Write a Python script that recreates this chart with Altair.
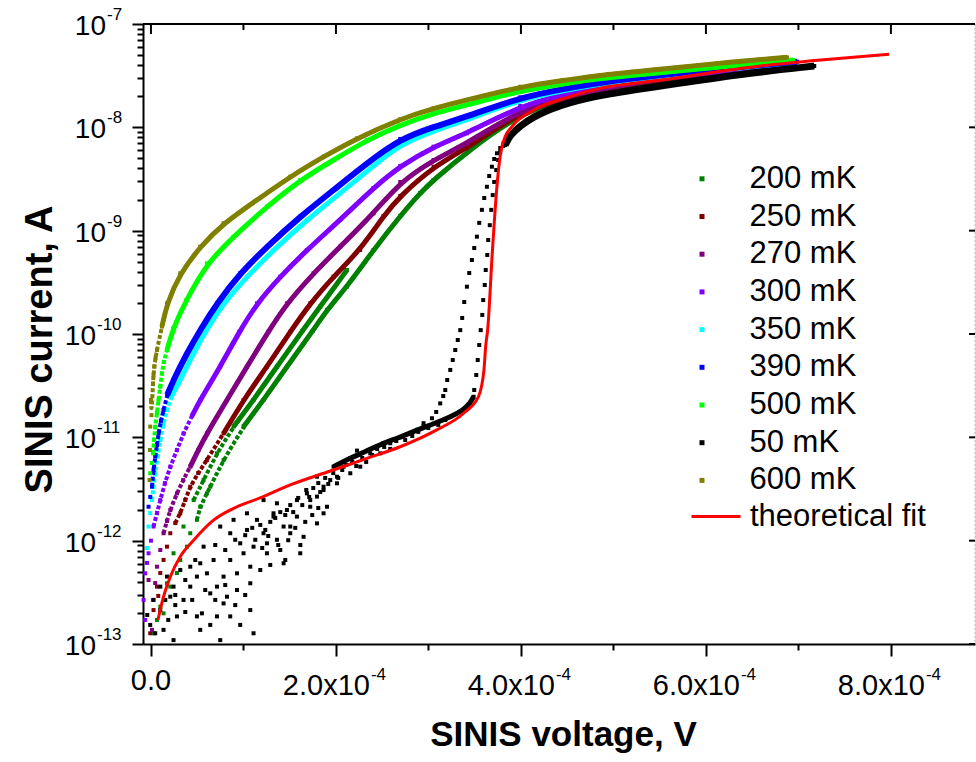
import altair as alt
import pandas as pd

FONT = "Liberation Sans"

series_names = ["200 mK", "250 mK", "270 mK", "300 mK", "350 mK", "390 mK", "500 mK", "50 mK", "600 mK"]
series_colors = ["#008000", "#800000", "#800080", "#8000FF", "#00FFFF", "#0000FF", "#00FF00", "#000000", "#808000"]
color_of = dict(zip(series_names, series_colors))
fit_name = "theoretical fit"
fit_color = "#FF0000"

# ---------------- data (V in volts, I in amperes) ----------------
V_200a = [2.8e-6, 6.5e-6, 1.36e-5, 2.09e-5, 2.81e-5, 3.17e-5, 3.89e-5, 4.25e-5, 4.97e-5, 5.33e-5,
          6.05e-5, 6.41e-5, 7.85e-5, 1.001e-4, 1.217e-4, 1.470e-4, 1.749e-4, 1.903e-4, 2.119e-4, 2.406e-4,
          2.695e-4, 2.911e-4, 3.055e-4, 3.416e-4, 3.992e-4, 4.497e-4, 4.857e-4, 5.506e-4, 6.263e-4, 6.922e-4]
I_200a = [1.27e-13, 1.71e-13, 1.98e-13, 3.59e-13, 4.86e-13, 6.51e-13, 8.75e-13, 1.18e-12, 1.59e-12, 2.13e-12,
          2.87e-12, 3.33e-12, 6.04e-12, 1.27e-11, 2.30e-11, 4.83e-11, 1.07e-10, 1.71e-10, 2.87e-10, 6.50e-10,
          1.39e-9, 2.32e-9, 3.09e-9, 5.78e-9, 1.37e-8, 1.91e-8, 2.26e-8, 2.87e-8, 3.43e-8, 3.92e-8]
V_200b = [1.01e-5, 1.73e-5, 2.44e-5, 3.52e-5, 4.61e-5, 5.69e-5, 7.14e-5, 8.93e-5, 1.109e-4, 1.362e-4,
          1.636e-4, 1.830e-4, 2.119e-4]
I_200b = [2.30e-13, 3.87e-13, 7.55e-13, 1.37e-12, 2.47e-12, 3.86e-12, 7.0e-12, 1.27e-11, 2.30e-11, 4.83e-11,
          1.07e-10, 1.84e-10, 4.16e-10]

V_250 = [-0.8e-6, 2.8e-6, 6.5e-6, 7.9e-6, 1.01e-5, 1.36e-5, 1.73e-5, 2.09e-5, 2.63e-5, 3.17e-5,
         3.71e-5, 4.25e-5, 5.11e-5, 6.05e-5, 7.85e-5, 1.001e-4, 1.254e-4, 1.506e-4, 1.722e-4, 1.974e-4,
         2.262e-4, 2.515e-4, 2.695e-4, 3.055e-4, 3.416e-4, 3.992e-4, 4.497e-4, 4.857e-4, 5.506e-4, 6.263e-4, 6.922e-4]
I_250 = [1.27e-13, 2.13e-13, 3.59e-13, 2.92e-13, 4.86e-13, 6.51e-13, 8.75e-13, 1.18e-12, 1.48e-12, 1.84e-12,
         2.47e-12, 3.33e-12, 4.51e-12, 6.04e-12, 1.09e-11, 2.30e-11, 4.83e-11, 1.05e-10, 1.98e-10, 3.59e-10,
         6.51e-10, 1.39e-9, 2.17e-9, 4.16e-9, 6.27e-9, 1.42e-8, 1.95e-8, 2.30e-8, 2.92e-8, 3.47e-8, 3.97e-8]

V_270 = [-2.6e-6, 1.1e-6, 2.8e-6, 4.6e-6, 6.5e-6, 1.01e-5, 1.36e-5, 1.73e-5, 2.09e-5, 2.81e-5,
         3.49e-5, 4.25e-5, 5.11e-5, 6.05e-5, 8.22e-5, 1.038e-4, 1.268e-4, 1.470e-4, 1.758e-4, 2.046e-4,
         2.406e-4, 2.695e-4, 3.055e-4, 3.416e-4, 3.992e-4, 4.497e-4, 4.857e-4, 5.506e-4, 6.263e-4, 6.933e-4]
I_270 = [4.16e-13, 1.37e-13, 2.67e-13, 3.89e-13, 5.60e-13, 8.12e-13, 1.18e-12, 1.55e-12, 1.98e-12, 2.87e-12,
         3.86e-12, 5.20e-12, 7.54e-12, 1.09e-11, 2.30e-11, 4.83e-11, 1.05e-10, 1.98e-10, 3.87e-10, 7.0e-10,
         1.47e-9, 2.96e-9, 4.83e-9, 7.0e-9, 1.47e-8, 2.01e-8, 2.33e-8, 2.98e-8, 3.51e-8, 4.01e-8]

V_300 = [-8.0e-6, -6.2e-6, -6.2e-6, -4.3e-6, -2.6e-6, 0.0, 2.8e-6, 6.5e-6, 1.01e-5, 1.51e-5,
         2.09e-5, 2.81e-5, 3.52e-5, 4.43e-5, 5.33e-5, 7.49e-5, 9.55e-5, 1.146e-4, 1.398e-4, 1.686e-4,
         2.046e-4, 2.406e-4, 2.695e-4, 3.055e-4, 3.416e-4, 3.992e-4, 4.497e-4, 4.857e-4, 5.506e-4, 6.263e-4, 6.944e-4]
I_300 = [2.67e-13, 4.83e-13, 1.71e-13, 6.09e-13, 7.55e-13, 1.0e-12, 1.37e-12, 1.85e-12, 2.47e-12, 3.61e-12,
         5.20e-12, 7.54e-12, 1.09e-11, 1.61e-11, 2.30e-11, 4.83e-11, 1.05e-10, 1.98e-10, 3.59e-10, 6.51e-10,
         1.27e-9, 2.59e-9, 4.23e-9, 6.50e-9, 8.76e-9, 1.61e-8, 2.13e-8, 2.47e-8, 3.05e-8, 3.59e-8, 4.10e-8]

V_350 = [-4.3e-6, -2.6e-6, -0.8e-6, 1.1e-6, 2.8e-6, 4.6e-6, 7.4e-6, 1.01e-5, 1.33e-5, 1.73e-5,
         2.19e-5, 2.98e-5, 4.61e-5, 6.09e-5, 7.85e-5, 1.038e-4, 1.325e-4, 1.686e-4, 2.046e-4, 2.406e-4,
         2.695e-4, 3.055e-4, 3.416e-4, 3.992e-4, 4.497e-4, 4.857e-4, 5.506e-4, 6.263e-4, 6.965e-4]
I_350 = [8.49e-13, 1.37e-12, 1.85e-12, 2.47e-12, 3.30e-12, 4.49e-12, 6.60e-12, 9.42e-12, 1.32e-11, 1.84e-11,
         2.46e-11, 3.33e-11, 6.51e-11, 1.14e-10, 1.98e-10, 3.59e-10, 6.51e-10, 1.27e-9, 2.30e-9, 4.23e-9,
         6.85e-9, 9.22e-9, 1.18e-8, 1.86e-8, 2.30e-8, 2.63e-8, 3.14e-8, 3.67e-8, 4.24e-8]

V_390 = [-2.6e-6, -0.8e-6, 1.1e-6, 2.8e-6, 4.6e-6, 6.5e-6, 8.2e-6, 1.08e-5, 1.36e-5, 1.76e-5,
         2.44e-5, 3.89e-5, 5.44e-5, 7.14e-5, 9.65e-5, 1.254e-4, 1.614e-4, 1.974e-4, 2.335e-4, 2.695e-4,
         3.055e-4, 3.416e-4, 3.992e-4, 4.497e-4, 4.857e-4, 5.506e-4, 6.263e-4, 6.987e-4]
I_390 = [2.13e-12, 2.65e-12, 3.33e-12, 4.83e-12, 6.50e-12, 8.43e-12, 1.09e-11, 1.44e-11, 1.84e-11, 2.57e-11,
         3.59e-11, 6.51e-11, 1.14e-10, 1.98e-10, 3.87e-10, 7.0e-10, 1.37e-9, 2.47e-9, 4.49e-9, 7.72e-9,
         1.01e-8, 1.27e-8, 1.95e-8, 2.39e-8, 2.70e-8, 3.21e-8, 3.75e-8, 4.32e-8]

V_500 = [-0.8e-6, 0.9e-6, 2.2e-6, 3.4e-6, 4.6e-6, 6.5e-6, 8.2e-6, 1.01e-5, 1.19e-5, 1.38e-5,
         1.73e-5, 2.41e-5, 3.82e-5, 6.05e-5, 8.93e-5, 1.254e-4, 1.614e-4, 1.974e-4, 2.335e-4, 2.695e-4,
         3.055e-4, 3.416e-4, 3.992e-4, 4.497e-4, 4.857e-4, 5.506e-4, 6.263e-4, 6.944e-4]
I_500 = [4.49e-12, 5.64e-12, 7.0e-12, 9.42e-12, 1.27e-11, 1.72e-11, 2.30e-11, 3.09e-11, 4.17e-11, 5.35e-11,
         7.0e-11, 1.14e-10, 2.13e-10, 4.83e-10, 8.74e-10, 1.71e-9, 3.09e-9, 4.83e-9, 7.54e-9, 1.05e-8,
         1.37e-8, 1.64e-8, 2.26e-8, 2.67e-8, 2.98e-8, 3.38e-8, 3.92e-8, 4.48e-8]

V_600 = [-1.5e-6, -1.1e-6, -0.8e-6, 0.0, 0.6e-6, 2.2e-6, 2.8e-6, 3.6e-6, 5.0e-6, 6.5e-6,
         1.19e-5, 1.73e-5, 3.17e-5, 5.33e-5, 7.85e-5, 1.146e-4, 1.506e-4, 1.866e-4, 2.227e-4, 2.695e-4,
         3.055e-4, 3.416e-4, 3.992e-4, 4.497e-4, 4.857e-4, 5.506e-4, 6.155e-4, 6.876e-4]
I_600 = [3.86e-12, 7.54e-12, 1.27e-11, 2.30e-11, 1.64e-11, 3.33e-11, 4.01e-11, 4.83e-11, 5.88e-11, 7.0e-11,
         1.18e-10, 1.98e-10, 3.87e-10, 7.0e-10, 1.18e-9, 1.98e-9, 3.33e-9, 5.20e-9, 7.83e-9, 1.20e-8,
         1.53e-8, 1.84e-8, 2.47e-8, 2.87e-8, 3.21e-8, 3.64e-8, 4.19e-8, 4.76e-8]

# 50 mK: noisy low-bias cloud, dense band, steep rise, hysteresis branch, upper branch
V_50_cloud = [-0.8e-6, 4.6e-6, 1.36e-5, 2.44e-5, 2.81e-5, 3.52e-5, 2.09e-5, 4.25e-5, 4.97e-5, 5.51e-5,
              6.41e-5, 7.14e-5, 7.85e-5, 8.57e-5, 1.074e-4, 1.109e-4, 4.97e-5, 6.05e-5, 6.77e-5, 5.33e-5,
              4.25e-5, 5.69e-5, 7.14e-5, 7.85e-5, 8.57e-5, 9.30e-5, 1.001e-4, 1.074e-4, 1.146e-4, 1.038e-4,
              8.57e-5, 9.65e-5, 1.109e-4, 1.217e-4, 1.254e-4, 1.362e-4, 1.325e-4, 1.434e-4, 1.506e-4, 1.578e-4,
              1.650e-4, 1.578e-4, 1.722e-4, 1.795e-4, 1.866e-4, 1.938e-4, 2.011e-4, 2.082e-4, 1.866e-4, 1.686e-4,
              3.17e-5, 1.73e-5, 1.01e-5, 2.44e-5, 8.22e-5, 6.41e-5, 9.30e-5, 1.074e-4, 1.182e-4, 1.254e-4,
              1.325e-4, 1.398e-4, 1.434e-4, 1.506e-4, 1.614e-4, 1.470e-4, 1.722e-4, 1.795e-4, 1.866e-4, 1.903e-4,
              2.011e-4, 2.155e-4, 2.263e-4, 2.371e-4, 2.479e-4, 2.587e-4, 2.695e-4, 2.803e-4, 2.947e-4, 2.227e-4,
              1.795e-4, 1.362e-4, 1.217e-4, 1.038e-4, 8.93e-5, 7.49e-5, -4.0e-6, 2.5e-6,
              1.182e-4, 1.236e-4, 1.290e-4, 1.344e-4, 1.398e-4, 1.452e-4, 1.506e-4, 1.538e-4, 1.592e-4, 1.636e-4,
              1.679e-4, 1.711e-4, 1.755e-4, 1.809e-4, 1.830e-4, 1.884e-4, 1.917e-4, 1.971e-4, 2.025e-4, 2.068e-4,
              2.111e-4, 2.176e-4, 2.219e-4, 2.284e-4, 2.327e-4, 2.392e-4, 2.446e-4, 2.522e-4, 2.587e-4, 2.652e-4,
              2.749e-4, 2.825e-4, 2.890e-4, 2.998e-4, 3.106e-4, 3.182e-4, 1.128e-4, 1.203e-4, 1.268e-4, 1.376e-4,
              1.484e-4, 1.560e-4, 1.668e-4, 1.744e-4, 1.809e-4, 1.615e-4, 1.452e-4, 1.290e-4, 1.01e-5, 1.87e-5,
              2.63e-5, 3.71e-5, 4.46e-5, 5.87e-5, 6.95e-5, 8.03e-5, 9.11e-5, 1.019e-4, 6.95e-5, 8.03e-5,
              9.11e-5, 1.019e-4, 1.095e-4, 4.79e-5, 3.71e-5, 2.63e-5, 1.55e-5, 5.33e-5, 7.49e-5, 9.65e-5]
I_50_cloud = [1.53e-13, 1.27e-13, 1.37e-13, 1.09e-13, 1.85e-13, 2.67e-13, 2.87e-13, 3.59e-13, 1.85e-13, 1.98e-13,
              1.53e-13, 1.85e-13, 2.47e-13, 1.85e-13, 2.13e-13, 1.27e-13, 4.49e-13, 4.83e-13, 6.50e-13, 6.04e-13,
              5.60e-13, 8.75e-13, 3.59e-13, 4.49e-13, 6.50e-13, 4.83e-13, 7.55e-13, 5.60e-13, 1.59e-12, 1.27e-12,
              1.18e-12, 9.43e-13, 8.75e-13, 1.18e-12, 7.55e-13, 1.02e-12, 1.84e-12, 1.37e-12, 1.18e-12, 1.71e-12,
              1.09e-12, 2.47e-12, 2.13e-12, 2.67e-12, 3.33e-12, 3.86e-12, 4.16e-12, 5.20e-12, 1.84e-12, 2.87e-12,
              5.20e-13, 4.49e-13, 3.59e-13, 3.59e-13, 2.87e-13, 3.09e-13, 3.33e-13, 3.87e-13, 5.20e-13, 9.43e-13,
              1.71e-12, 8.12e-13, 6.04e-13, 1.37e-12, 7.55e-13, 1.98e-12, 2.47e-12, 1.47e-12, 3.09e-12, 2.13e-12,
              3.59e-12, 4.49e-12, 5.20e-12, 7.0e-12, 7.0e-12, 8.76e-12, 1.01e-11, 1.09e-11, 1.27e-11, 7.44e-12,
              4.16e-12, 2.30e-12, 2.47e-12, 1.84e-12, 1.59e-12, 1.37e-12, 1.91e-13, 2.67e-13,
              1.42e-12, 1.27e-12, 1.52e-12, 1.66e-12, 1.89e-12, 1.77e-12, 2.21e-12, 1.89e-12, 2.59e-12, 2.21e-12,
              3.09e-12, 2.65e-12, 3.23e-12, 3.61e-12, 2.96e-12, 4.05e-12, 3.54e-12, 4.51e-12, 4.05e-12, 4.83e-12,
              5.40e-12, 5.78e-12, 5.28e-12, 6.31e-12, 5.78e-12, 6.75e-12, 7.72e-12, 8.07e-12, 7.72e-12, 9.22e-12,
              9.42e-12, 1.03e-11, 1.13e-11, 1.23e-11, 1.32e-11, 1.47e-11, 1.02e-12, 8.49e-13, 1.11e-12, 9.08e-13,
              1.01e-12, 1.33e-12, 1.52e-12, 1.77e-12, 2.07e-12, 9.08e-13, 6.50e-13, 5.82e-13, 2.13e-13, 1.71e-13,
              2.38e-13, 2.04e-13, 2.67e-13, 3.33e-13, 2.67e-13, 3.72e-13, 2.38e-13, 2.98e-13, 9.08e-13, 8.12e-13,
              1.02e-12, 1.13e-12, 1.33e-12, 6.50e-13, 4.16e-13, 2.98e-13, 2.67e-13, 1.37e-13, 1.09e-13, 1.53e-13]
V_50_band = [1.974e-4, 2.155e-4, 2.335e-4, 2.515e-4, 2.695e-4, 2.876e-4, 3.055e-4, 3.236e-4, 3.379e-4, 3.452e-4, 3.488e-4]
I_50_band = [5.20e-12, 6.31e-12, 7.38e-12, 8.82e-12, 1.0e-11, 1.18e-11, 1.35e-11, 1.57e-11, 1.84e-11, 2.15e-11, 2.47e-11]
V_50_rise = [3.495e-4, 3.517e-4, 3.533e-4, 3.549e-4, 3.565e-4, 3.582e-4, 3.592e-4, 3.609e-4, 3.619e-4, 3.636e-4,
             3.646e-4, 3.663e-4, 3.679e-4, 3.695e-4, 3.711e-4, 3.733e-4, 3.754e-4, 3.776e-4, 3.808e-4]
I_50_rise = [2.87e-11, 4.01e-11, 5.60e-11, 7.82e-11, 1.09e-10, 1.53e-10, 2.13e-10, 2.98e-10, 4.16e-10, 5.82e-10,
             8.12e-10, 1.13e-9, 1.59e-9, 2.21e-9, 2.96e-9, 3.86e-9, 4.83e-9, 5.77e-9, 6.60e-9]
V_50_left = [2.947e-4, 3.038e-4, 3.084e-4, 3.127e-4, 3.160e-4, 3.182e-4, 3.203e-4, 3.236e-4, 3.263e-4, 3.290e-4,
             3.317e-4, 3.344e-4, 3.365e-4, 3.387e-4, 3.416e-4, 3.441e-4, 3.470e-4, 3.495e-4, 3.524e-4, 3.549e-4,
             3.578e-4, 3.603e-4, 3.632e-4, 3.657e-4, 3.686e-4, 3.711e-4, 3.741e-4, 3.776e-4, 3.812e-4]
I_50_left = [1.37e-11, 1.53e-11, 1.76e-11, 2.13e-11, 2.51e-11, 2.87e-11, 3.59e-11, 4.49e-11, 5.60e-11, 7.0e-11,
             8.75e-11, 1.09e-10, 1.43e-10, 2.04e-10, 2.87e-10, 3.89e-10, 5.20e-10, 6.80e-10, 8.75e-10, 1.19e-9,
             1.59e-9, 2.07e-9, 2.66e-9, 3.38e-9, 4.16e-9, 4.94e-9, 5.61e-9, 6.31e-9, 7.0e-9]
V_50_top = [3.830e-4, 3.884e-4, 3.992e-4, 4.133e-4, 4.317e-4, 4.497e-4, 4.857e-4, 5.506e-4, 6.371e-4, 7.171e-4]
I_50_top = [6.75e-9, 8.43e-9, 1.03e-8, 1.26e-8, 1.50e-8, 1.71e-8, 2.06e-8, 2.51e-8, 3.28e-8, 3.92e-8]

V_fit = [7.57e-6, 1.36e-5, 2.09e-5, 3.16e-5, 4.61e-5, 6.77e-5, 9.30e-5, 1.18e-4, 1.506e-4, 1.94e-4,
         2.335e-4, 2.695e-4, 3.09e-4, 3.38e-4, 3.54e-4, 3.60e-4, 3.62e-4, 3.64e-4, 3.69e-4, 3.74e-4,
         3.78e-4, 3.83e-4, 3.90e-4, 4.14e-4, 4.50e-4, 4.86e-4, 5.51e-4, 6.59e-4, 7.24e-4, 7.98e-4]
I_fit = [1.71e-13, 2.87e-13, 4.48e-13, 7.0e-13, 1.01e-12, 1.58e-12, 2.13e-12, 2.59e-12, 3.46e-12, 4.72e-12,
         6.26e-12, 8.11e-12, 1.18e-11, 1.71e-11, 2.47e-11, 4.48e-11, 7.82e-11, 1.09e-10, 6.04e-10, 2.66e-9,
         5.61e-9, 8.13e-9, 1.01e-8, 1.47e-8, 1.95e-8, 2.39e-8, 2.87e-8, 3.93e-8, 4.49e-8, 5.09e-8]

# axis ticks and labels
x_major = [0.0, 2e-4, 4e-4, 6e-4, 8e-4]
x_minor = [1e-4, 3e-4, 5e-4, 7e-4]
x_mant = ["0.0", "2.0x10", "4.0x10", "6.0x10", "8.0x10"]
x_exp = ["", "-4", "-4", "-4", "-4"]
y_major = [1e-7, 1e-8, 1e-9, 1e-10, 1e-11, 1e-12, 1e-13]
y_exp = ["-7", "-8", "-9", "-10", "-11", "-12", "-13"]
y_minor = [m * 10.0 ** e for e in range(-13, -7) for m in range(2, 10)]

# (series, V, I, lowest current of the dotted chain, lowest current of the solid trace, trace width)
segments = [
    ("200 mK", V_200a, I_200a, 1.5e-12, 8e-12, 5),
    ("200 mK", V_200b, I_200b, 1.5e-12, 8e-12, 5),
    ("250 mK", V_250, I_250, 1.2e-12, 8e-12, 5),
    ("270 mK", V_270, I_270, 1.0e-12, 4e-12, 5),
    ("300 mK", V_300, I_300, 1.2e-12, 1.2e-11, 5),
    ("350 mK", V_350, I_350, 2.4e-12, 2.2e-11, 5),
    ("390 mK", V_390, I_390, 3.3e-12, 2.5e-11, 6),
    ("500 mK", V_500, I_500, 7e-12, 6.9e-11, 5),
    ("50 mK", V_50_cloud, I_50_cloud, None, None, 5),
    ("50 mK", V_50_band, I_50_band, None, 0.0, 5),
    ("50 mK", V_50_rise, I_50_rise, None, None, 5),
    ("50 mK", V_50_left, I_50_left, None, None, 5),
    ("50 mK", V_50_top, I_50_top, None, 0.0, 7),
    ("600 mK", V_600, I_600, 1.6e-11, 1.1e-10, 5),
]

PLOT_W, PLOT_H = 832, 620

x_scale = alt.Scale(domain=[-0.0000086, 0.0008909], nice=False, zero=False)
y_scale = alt.Scale(type="log", domain=[1e-13, 1e-7], nice=False)

x_axis = alt.Axis(
    values=sorted(x_major + x_minor), labels=False, grid=False,
    tickColor="black", tickWidth=2,
    tickSize={"condition": {"test": "round(datum.value*10000) % 2 == 0", "value": 12}, "value": 6},
    domainColor="black", domainWidth=2,
    title="SINIS voltage, V", titleFont=FONT, titleFontSize=35, titleFontWeight="bold",
    titleColor="black", titleX=420, titleY=101, titleAlign="center", titleBaseline="alphabetic",
)
y_axis = alt.Axis(
    values=y_major + y_minor, labels=False, grid=False,
    tickColor="black", tickWidth=2,
    tickSize={"condition": {"test": "abs(log(datum.value)/LN10 - round(log(datum.value)/LN10)) < 0.01",
                            "value": 11}, "value": 6},
    domainColor="black", domainWidth=2,
    title="SINIS current, A", titleFont=FONT, titleFontSize=38, titleFontWeight="bold",
    titleColor="black", titleX=-103, titleY=325, titleAngle=270, titleAlign="center",
    titleBaseline="middle",
)
x_enc = alt.X("V:Q", scale=x_scale, axis=x_axis)
y_enc = alt.Y("I:Q", scale=y_scale, axis=y_axis)

sq_legend = alt.Legend(
    title=None, orient="none", legendX=543.5, legendY=139.3, symbolType="square", symbolSize=25,
    symbolStrokeWidth=0, labelFont=FONT, labelFontSize=31, labelColor="black", labelOffset=32,
    rowPadding=5.7, padding=0, labelLimit=300,
)
color_enc = alt.Color("series:N", scale=alt.Scale(domain=series_names, range=series_colors), legend=sq_legend)

layers = []

# frame: top spine, faint right edge
one = pd.DataFrame({"k": [0]})
layers.append(alt.Chart(one).mark_rule(color="black", strokeWidth=2).encode(
    x=alt.value(0), x2=alt.value(PLOT_W), y=alt.value(0)))
layers.append(alt.Chart(one).mark_rule(color="#b8b8b8", strokeWidth=1, strokeDash=[2, 2]).encode(
    x=alt.value(PLOT_W), y=alt.value(0), y2=alt.value(PLOT_H)))

# mirrored inward ticks on top and right
layers.append(alt.Chart(pd.DataFrame({"V": x_major})).mark_rule(color="black", strokeWidth=2).encode(
    x=x_enc, y=alt.value(0), y2=alt.value(10)))
layers.append(alt.Chart(pd.DataFrame({"V": x_minor})).mark_rule(color="black", strokeWidth=2).encode(
    x=x_enc, y=alt.value(0), y2=alt.value(6)))
layers.append(alt.Chart(pd.DataFrame({"I": y_major})).mark_rule(color="black", strokeWidth=2).encode(
    y=y_enc, x=alt.value(PLOT_W - 6), x2=alt.value(PLOT_W)))

# measured series
for name, vs, cs, dot_min, solid_min, lw in segments:
    n = min(len(vs), len(cs))
    df = pd.DataFrame({"V": vs[:n], "I": cs[:n], "series": [name] * n})
    if dot_min is not None:
        dd = df[df["I"] >= dot_min]
        layers.append(alt.Chart(dd).mark_line(strokeWidth=4, color=color_of[name], strokeDash=[4, 2],
                                              interpolate="basis").encode(x=x_enc, y=y_enc))
    if solid_min is not None:
        dl = df[df["I"] >= solid_min]
        layers.append(alt.Chart(dl).mark_line(strokeWidth=lw, color=color_of[name],
                                              interpolate="basis").encode(x=x_enc, y=y_enc))
    layers.append(alt.Chart(df).mark_square(size=16, opacity=1).encode(x=x_enc, y=y_enc, color=color_enc))

# theoretical fit
fit_df = pd.DataFrame({"V": V_fit, "I": I_fit, "fit": [fit_name] * len(V_fit)})
fit_legend = alt.Legend(
    title=None, orient="none", legendX=547, legendY=466.5, symbolType="stroke", symbolSize=2401,
    symbolStrokeWidth=3, labelFont=FONT, labelFontSize=31, labelColor="black", labelOffset=8,
    padding=0, labelLimit=300,
)
layers.append(alt.Chart(fit_df).mark_line(strokeWidth=3, interpolate="monotone").encode(
    x=x_enc, y=y_enc,
    stroke=alt.Stroke("fit:N", scale=alt.Scale(domain=[fit_name], range=[fit_color]), legend=fit_legend)))

# y tick labels: "10" with raised exponent, whole label right-aligned
ylab = pd.DataFrame({"I": y_major, "base": ["10"] * len(y_major), "exp": y_exp})
ylab["n"] = ylab["exp"].str.len()
for n_chars, base_x in [(2, -37), (3, -47)]:
    sub = ylab[ylab["n"] == n_chars]
    layers.append(alt.Chart(sub).mark_text(font=FONT, fontSize=28, align="right", baseline="alphabetic",
                                           dy=11, color="black").encode(
        y=y_enc, x=alt.value(base_x), text="base:N"))
    layers.append(alt.Chart(sub).mark_text(font=FONT, fontSize=17, align="left", baseline="alphabetic",
                                           dy=-4, color="black").encode(
        y=y_enc, x=alt.value(base_x + 1), text="exp:N"))

# x tick labels
xlab = pd.DataFrame({"V": x_major, "mant": x_mant, "exp": x_exp})
plain = xlab[xlab["exp"] == ""]
sup = xlab[xlab["exp"] != ""]
layers.append(alt.Chart(plain).mark_text(font=FONT, fontSize=29, align="center", baseline="alphabetic",
                                         color="black").encode(x=x_enc, y=alt.value(PLOT_H + 46), text="mant:N"))
layers.append(alt.Chart(sup).mark_text(font=FONT, fontSize=29, align="right", baseline="alphabetic",
                                       dx=34, color="black").encode(x=x_enc, y=alt.value(PLOT_H + 51), text="mant:N"))
layers.append(alt.Chart(sup).mark_text(font=FONT, fontSize=17, align="left", baseline="alphabetic",
                                       dx=35, color="black").encode(x=x_enc, y=alt.value(PLOT_H + 36), text="exp:N"))

chart = alt.layer(*layers).properties(
    width=PLOT_W, height=PLOT_H,
    autosize=alt.AutoSizeParams(type="none"),
    padding={"left": 143, "top": 24, "right": 1, "bottom": 118},
).configure_view(strokeWidth=0).configure(font=FONT)

chart.save("out.html", embed_options={"renderer": "svg", "actions": False})
